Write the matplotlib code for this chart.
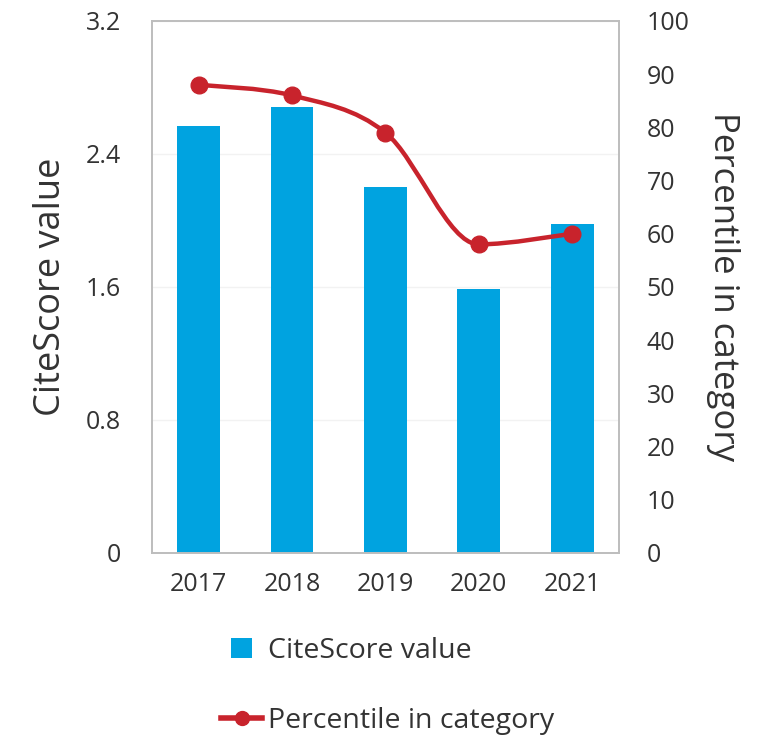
import numpy as np
import matplotlib
matplotlib.use("Agg")
import matplotlib.pyplot as plt
from matplotlib.path import Path
from matplotlib.patches import PathPatch, Patch, Rectangle
from matplotlib.lines import Line2D
from matplotlib.legend_handler import HandlerPatch

plt.rcParams['font.family'] = ['Open Sans', 'DejaVu Sans']

# Data
years = ['2017', '2018', '2019', '2020', '2021']
citescore = [2.57, 2.68, 2.2, 1.59, 1.98]
percentile = [88, 86, 79, 58, 60]

left_ticks = [0, 0.8, 1.6, 2.4, 3.2]
left_ticklabels = ['0', '0.8', '1.6', '2.4', '3.2']
right_ticks = list(range(0, 101, 10))

blue = '#00a3e0'
red = '#c8232c'
text_col = '#333333'

fig = plt.figure(figsize=(7.67, 7.39), dpi=100)
ax = fig.add_axes([0.198, 0.2517, 0.609, 0.72])
ax2 = ax.twinx()

x = np.arange(len(years))
ax.bar(x, citescore, width=0.46, color=blue, zorder=2)
ax.set_xlim(-0.5, len(years) - 0.5)
ax.set_ylim(0, 3.2)
ax.set_yticks(left_ticks)
ax.set_yticklabels(left_ticklabels)
ax.set_xticks(x)
ax.set_xticklabels(years)
ax.yaxis.grid(True, color='#f2f2f2', linewidth=1)
ax.set_axisbelow(True)

ax2.set_ylim(0, 100)
ax2.set_yticks(right_ticks)

# smoothed line, bezier through the points, flat at turning points
pts = np.column_stack([x, percentile]).astype(float)
n = len(pts)
tang = []
for i in range(n):
    p0 = pts[max(i - 1, 0)]
    p2 = pts[min(i + 1, n - 1)]
    t = (p2 - p0) / 2
    if 0 < i < n - 1 and (pts[i, 1] - p0[1]) * (p2[1] - pts[i, 1]) < 0:
        t[1] = 0
    tang.append(t)
verts = [pts[0]]
codes = [Path.MOVETO]
for i in range(n - 1):
    verts += [pts[i] + tang[i] / 3, pts[i + 1] - tang[i + 1] / 3, pts[i + 1]]
    codes += [Path.CURVE4] * 3
ax2.add_patch(PathPatch(Path(verts, codes), facecolor='none', edgecolor=red,
                        linewidth=3.2, capstyle='round', zorder=3))
ax2.plot(x, percentile, linestyle='none', marker='o', markersize=12,
         color=red, zorder=4)

for a in (ax, ax2):
    for s in a.spines.values():
        s.set_color('#bdbdbd')
        s.set_linewidth(1.2)
    a.tick_params(length=0, labelsize=18, labelcolor=text_col)

ax.tick_params(axis='y', pad=22)
ax.tick_params(axis='x', pad=14)
ax2.tick_params(axis='y', pad=20)

ax.set_ylabel('CiteScore value', fontsize=26, color=text_col, labelpad=12)
ax2.set_ylabel('Percentile in category', fontsize=25, color=text_col,
               rotation=270, labelpad=36)


def square(legend, orig_handle, xdescent, ydescent, width, height, fontsize):
    s = 14.5
    return Rectangle((-xdescent + (width - s) / 2, -ydescent + (height - s) / 2),
                     s, s)


handles = [Patch(facecolor=blue, edgecolor='none'),
           Line2D([0], [0], color=red, linewidth=4, marker='o', markersize=10)]
fig.legend(handles, ['CiteScore value', 'Percentile in category'],
           loc='upper left', bbox_to_anchor=(0.288, 0.1385), frameon=False,
           fontsize=20.5, labelspacing=1.5, handlelength=1.45, handleheight=0.7,
           handletextpad=0.2, borderpad=0, borderaxespad=0,
           labelcolor=text_col,
           handler_map={Patch: HandlerPatch(patch_func=square)})

fig.savefig('out.png', dpi=100)
